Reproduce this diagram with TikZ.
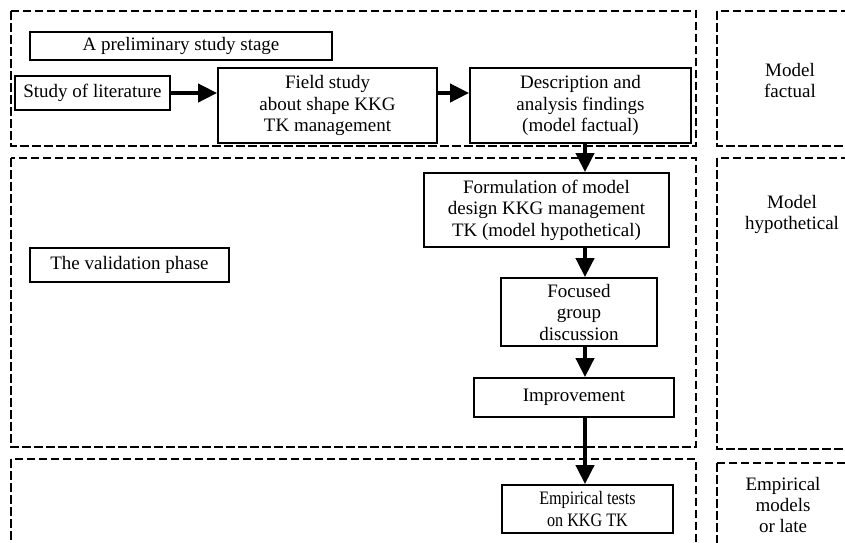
\documentclass[tikz,border=0pt]{standalone}
\usepackage{fontspec}
\usepackage{graphicx}
\setmainfont{Liberation Serif}
\usetikzlibrary{arrows.meta}
\begin{document}
\begin{tikzpicture}[x=1pt,y=-1pt,
  box/.style={draw,line width=1.8pt,inner sep=0pt,align=center,font=\fontsize{19}{21.5}\selectfont},
  frame/.style={draw,line width=1.8pt,dash pattern=on 8.5pt off 3.5pt},
  lab/.style={align=center,inner sep=0pt,font=\fontsize{19}{21}\selectfont},
  flow/.style={line width=4pt,-{Triangle[length=19pt,width=18pt]}}]
\useasboundingbox (0,0) rectangle (845,542);
% group frames
\draw[frame] (11,11) rectangle (696,146);
\draw[frame] (11,158) rectangle (696,447);
\draw[frame] (11,459) rectangle (696,560);
\draw[frame] (717,11) rectangle (870,146);
\draw[frame] (717,158) rectangle (870,449);
\draw[frame] (717,463) rectangle (870,560);
% nodes
\node[box,minimum width=302pt,minimum height=28pt] (prelim) at (181,46) {A preliminary study stage};
\node[box,minimum width=155pt,minimum height=34pt] (lit) at (92.5,93) {Study of literature};
\node[box,minimum width=219pt,minimum height=75pt] (field) at (327.5,105.5) {Field study\\about shape KKG\\TK management};
\node[box,minimum width=221pt,minimum height=75pt] (desc) at (580.5,105.5) {Description and\\analysis findings\\(model factual)};
\node[box,minimum width=245pt,minimum height=74pt] (form) at (546.5,210) {Formulation of model\\design KKG management\\TK (model hypothetical)};
\node[box,minimum width=156pt,minimum height=68pt] (focus) at (579,312) {Focused\\group\\discussion};
\node[box,minimum width=200pt,minimum height=39pt] (improve) at (574,397.5) {Improvement};
\node[box,minimum width=199pt,minimum height=34pt] (valid) at (129.5,265) {The validation phase};
\node[box,minimum width=171pt,minimum height=48pt] (emp) at (587.5,509) {\scalebox{0.85}[1]{Empirical tests}\\\scalebox{0.85}[1]{on KKG TK}};
% side labels
\node[lab] (lf) at (790,80) {Model\\factual};
\node[lab] (lh) at (792,214) {Model\\hypothetical};
\node[lab] (le) at (783,505) {Empirical\\models\\or late};
% connectors
\coordinate (spine) at (585,0);
\draw[flow] (lit.east) -- (lit.east -| field.west);
\draw[flow] (lit.east -| field.east) -- (lit.east -| desc.west);
\draw[flow] (desc.south -| spine) -- (form.north -| spine);
\draw[flow] (form.south -| spine) -- (focus.north -| spine);
\draw[flow] (focus.south -| spine) -- (improve.north -| spine);
\draw[flow] (improve.south -| spine) -- (emp.north -| spine);
\end{tikzpicture}
\end{document}
